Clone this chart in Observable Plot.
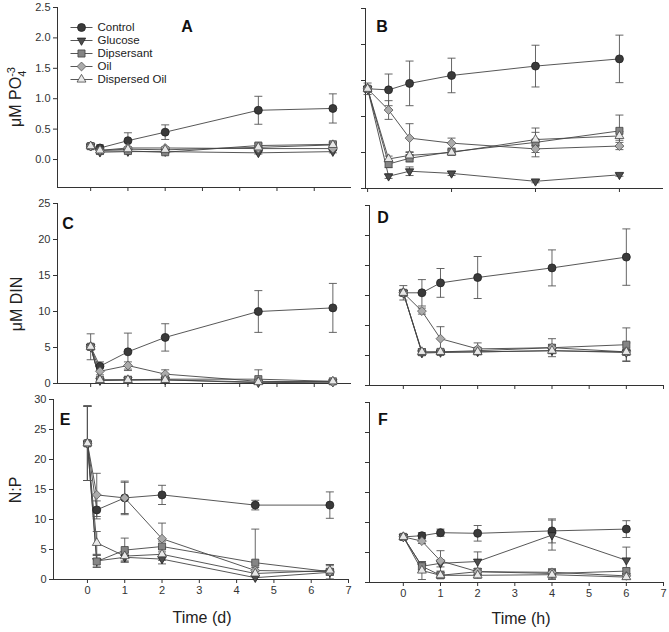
<!DOCTYPE html>
<html>
<head>
<meta charset="utf-8">
<script src="https://cdn.jsdelivr.net/npm/d3@7"></script>
<script src="https://cdn.jsdelivr.net/npm/@observablehq/plot@0.6"></script>
<style>
  html, body { margin: 0; padding: 0; background: #fff; }
  #root { position: relative; width: 669px; height: 632px; background: #fff; font-family: "Liberation Sans", Arial, sans-serif; overflow: hidden; }
  .abs { position: absolute; }
  .ytitle { position: absolute; transform: translate(-50%, -50%) rotate(-90deg); white-space: nowrap; font-size: 16px; color: #222; }
  .xtitle { position: absolute; transform: translate(-50%, -50%); white-space: nowrap; font-size: 16px; color: #222; }
  .letter { position: absolute; transform: translate(-50%, -50%); font-weight: bold; font-size: 16px; color: #111; }
</style>
</head>
<body>
<div id="root"></div>
<script>
// ---------- DATA ----------
const series = ["Control", "Glucose", "Dipsersant", "Oil", "Dispersed Oil"];
const timeDays = [0, 0.25, 1, 2, 4.5, 6.5];
const timeHours = [0, 0.5, 1, 2, 4, 6];

// Panel A: µM PO4 (days)   rows: Control, Glucose, Dipsersant, Oil, Dispersed Oil
const po4Days = [
  [0.22, 0.19, 0.31, 0.45, 0.81, 0.84],
  [0.22, 0.12, 0.13, 0.13, 0.11, 0.13],
  [0.22, 0.14, 0.14, 0.12, 0.23, 0.25],
  [0.22, 0.15, 0.19, 0.19, 0.18, 0.18],
  [0.22, 0.15, 0.17, 0.16, 0.20, 0.24]
];
const po4DaysErr = [
  [0.03, 0.05, 0.13, 0.12, 0.23, 0.24],
  [0.02, 0.03, 0.02, 0.02, 0.02, 0.02],
  [0.02, 0.03, 0.02, 0.02, 0.03, 0.03],
  [0.02, 0.03, 0.02, 0.02, 0.02, 0.02],
  [0.02, 0.03, 0.02, 0.02, 0.02, 0.03]
];
// Panel B: µM PO4 (hours)
const po4Hours = [
  [1.385, 1.37, 1.46, 1.57, 1.70, 1.80],
  [1.385, 0.17, 0.24, 0.21, 0.10, 0.19],
  [1.385, 0.34, 0.42, 0.51, 0.64, 0.80],
  [1.385, 1.09, 0.70, 0.63, 0.55, 0.59],
  [1.385, 0.41, 0.46, 0.50, 0.68, 0.73]
];
const po4HoursErr = [
  [0.08, 0.22, 0.31, 0.24, 0.29, 0.33],
  [0.03, 0.03, 0.06, 0.03, 0.02, 0.02],
  [0.03, 0.05, 0.05, 0.03, 0.20, 0.22],
  [0.03, 0.13, 0.20, 0.07, 0.05, 0.05],
  [0.03, 0.04, 0.05, 0.03, 0.10, 0.06]
];
// Panel C: µM DIN (days)
const dinDays = [
  [5.1, 2.4, 4.4, 6.4, 10.0, 10.5],
  [5.1, 0.4, 0.5, 0.5, 0.1, 0.2],
  [5.1, 0.5, 0.5, 0.6, 0.6, 0.3],
  [5.1, 1.7, 2.5, 1.3, 0.3, 0.2],
  [5.1, 0.5, 0.5, 0.5, 0.2, 0.3]
];
const dinDaysErr = [
  [1.8, 0.6, 2.6, 1.9, 2.9, 3.4],
  [0.3, 0.2, 0.2, 0.2, 0.1, 0.1],
  [0.3, 0.2, 0.5, 0.2, 1.3, 0.1],
  [0.3, 0.5, 0.5, 0.6, 0.2, 0.1],
  [0.3, 0.2, 0.2, 0.2, 0.1, 0.1]
];
// Panel D: µM DIN (hours)
const dinHours = [
  [15.45, 15.45, 17.1, 18.0, 19.6, 21.4],
  [15.45, 5.4, 5.5, 5.6, 5.8, 5.5],
  [15.45, 5.55, 5.6, 5.8, 6.3, 6.8],
  [15.45, 12.4, 7.8, 6.1, 6.3, 5.6],
  [15.45, 5.6, 5.6, 5.6, 5.8, 5.6]
];
const dinHoursErr = [
  [1.2, 2.2, 2.4, 3.5, 3.0, 4.7],
  [0.4, 0.3, 0.3, 0.3, 0.4, 0.5],
  [0.4, 0.5, 0.3, 0.3, 1.5, 2.8],
  [0.4, 0.5, 2.0, 1.0, 0.5, 0.5],
  [0.4, 0.5, 0.3, 0.3, 0.5, 1.5]
];
// Panel E: N:P (days)
const npDays = [
  [22.7, 11.6, 13.6, 14.1, 12.4, 12.4],
  [22.7, 3.1, 3.7, 3.4, 0.3, 1.2],
  [22.7, 3.0, 4.9, 5.5, 2.8, 1.3],
  [22.7, 14.1, 13.6, 6.8, 1.5, 1.3],
  [22.7, 6.1, 3.9, 4.2, 1.0, 1.5]
];
const npDaysErr = [
  [6.2, 1.5, 2.8, 1.6, 0.8, 2.2],
  [6.2, 1.0, 0.8, 0.8, 0.3, 1.3],
  [6.2, 1.0, 2.0, 0.9, 5.6, 1.2],
  [6.2, 3.6, 2.6, 2.6, 0.5, 0.5],
  [6.2, 1.9, 0.8, 1.0, 0.3, 0.8]
];
// Panel F: N:P (hours)
const npHours = [
  [7.6, 7.8, 8.3, 8.2, 8.6, 8.9],
  [7.6, 2.7, 3.2, 3.5, 7.9, 3.7],
  [7.6, 2.7, 1.2, 1.8, 1.5, 1.9],
  [7.6, 6.9, 3.6, 1.8, 1.7, 1.1],
  [7.6, 2.0, 1.2, 1.2, 1.3, 0.9]
];
const npHoursErr = [
  [0.4, 0.5, 0.6, 1.3, 2.0, 1.4],
  [0.4, 0.6, 0.6, 1.6, 2.5, 2.2],
  [0.4, 0.8, 0.4, 0.5, 0.8, 0.5],
  [0.4, 0.4, 1.7, 0.5, 0.5, 0.4],
  [0.4, 1.5, 0.5, 0.5, 0.8, 0.4]
];

// tick values
const po4Ticks = [0, 0.5, 1.0, 1.5, 2.0, 2.5];
const dinTicks = [0, 5, 10, 15, 20, 25];
const npTicks = [0, 5, 10, 15, 20, 25, 30];
const dayTicks = [0, 1, 2, 3, 4, 5, 6];
const dayTicksLabeled = [0, 1, 2, 3, 4, 5, 6, 7];
const hourTicksB = [0, 2, 4, 6];
const hourTicks = [0, 1, 2, 3, 4, 5, 6, 7];

// ---------- STYLE ----------
const sqrt3 = Math.sqrt(3);
const triangleDown = {
  draw(context, size) {
    const y = -Math.sqrt(size / (sqrt3 * 3));
    context.moveTo(0, -y * 2);
    context.lineTo(-sqrt3 * y, y);
    context.lineTo(sqrt3 * y, y);
    context.closePath();
  }
};
const capSymbol = {
  draw(context, size) {
    const r = Math.sqrt(size / Math.PI);
    context.moveTo(-r, 0);
    context.lineTo(r, 0);
  }
};
const seriesSymbol = ["circle", triangleDown, "square", "diamond2", "triangle"];
const seriesFill = ["#3a3a3a", "#4d4d4d", "#858585", "#ababab", "#e8e8e8"];
const seriesStroke = ["#222", "#222", "#444", "#555", "#444"];
const seriesR = [4, 3.1, 4, 4, 3.3];

const root = document.getElementById("root");

function rowsOf(times, vals, errs) {
  const rows = [];
  series.forEach((s, i) => times.forEach((t, j) => rows.push({series: s, si: i, t, v: vals[i][j], e: errs[i][j]})));
  return rows;
}

function panel(cfg) {
  const mL = 50, mR = 12, mT = 10, mB = 30;
  const f = cfg.frame;
  const rows = rowsOf(cfg.times, cfg.vals, cfg.errs);
  const lo = d => Math.max(cfg.yDomain[0], d.v - d.e);
  const marks = [
    Plot.ruleX([cfg.xDomain[0]], {stroke: "#333", strokeWidth: 1}),
    Plot.ruleY([cfg.yDomain[0]], {stroke: "#333", strokeWidth: 1}),
    Plot.axisY({ticks: cfg.yTicks, tickSize: 4, tickPadding: 3, label: null,
      tickFormat: cfg.yFormat ? cfg.yFormat : () => ""}),
    Plot.axisX({ticks: cfg.xTicks, tickSize: 4, tickPadding: 3, label: null,
      tickFormat: cfg.xLabels ? d3.format("d") : () => ""}),
    Plot.line(rows, {x: "t", y: "v", z: "series", stroke: "#444", strokeWidth: 0.9}),
    Plot.link(rows, {x1: "t", x2: "t", y1: lo, y2: d => d.v + d.e, stroke: "#555", strokeWidth: 0.9}),
    Plot.dot(rows, {x: "t", y: d => d.v + d.e, symbol: capSymbol, r: 4, fill: "none", stroke: "#555", strokeWidth: 0.9}),
    Plot.dot(rows.filter(d => d.v - d.e > cfg.yDomain[0]), {x: "t", y: d => d.v - d.e, symbol: capSymbol, r: 4, fill: "none", stroke: "#555", strokeWidth: 0.9})
  ];
  series.forEach((s, i) => {
    marks.push(Plot.dot(rows.filter(d => d.si === i), {
      x: "t", y: "v", symbol: seriesSymbol[i], r: seriesR[i],
      fill: seriesFill[i], stroke: seriesStroke[i], strokeWidth: 0.8
    }));
  });
  const svg = Plot.plot({
    width: f.right - f.left + mL + mR,
    height: f.bottom - f.top + mT + mB,
    marginLeft: mL, marginRight: mR, marginTop: mT, marginBottom: mB,
    x: {domain: cfg.xDomain, label: null},
    y: {domain: cfg.yDomain, label: null},
    style: {background: "transparent", fontFamily: "'Liberation Sans', Arial, sans-serif", fontSize: "11px", color: "#333", maxWidth: "none", overflow: "visible"},
    marks
  });
  svg.classList.add("abs");
  svg.style.left = (f.left - mL) + "px";
  svg.style.top = (f.top - mT) + "px";
  root.appendChild(svg);
}

panel({frame: {left: 57, right: 351, top: 7, bottom: 187}, xDomain: [-0.89, 7], yDomain: [-0.46, 2.5],
  times: timeDays, vals: po4Days, errs: po4DaysErr, yTicks: po4Ticks, yFormat: d3.format(".1f"), xTicks: dayTicks, xLabels: false});
panel({frame: {left: 365, right: 663, top: 8, bottom: 188}, xDomain: [-0.05, 7.05], yDomain: [0, 2.5],
  times: timeHours, vals: po4Hours, errs: po4HoursErr, yTicks: po4Ticks, yFormat: null, xTicks: hourTicksB, xLabels: false});
panel({frame: {left: 57, right: 351, top: 203, bottom: 383}, xDomain: [-0.89, 7], yDomain: [0, 25],
  times: timeDays, vals: dinDays, errs: dinDaysErr, yTicks: dinTicks, yFormat: d3.format("d"), xTicks: dayTicks, xLabels: false});
panel({frame: {left: 369, right: 663, top: 205, bottom: 385}, xDomain: [-0.91, 7], yDomain: [0, 30],
  times: timeHours, vals: dinHours, errs: dinHoursErr, yTicks: npTicks, yFormat: null, xTicks: hourTicks, xLabels: false});
panel({frame: {left: 53, right: 348, top: 399, bottom: 579}, xDomain: [-0.91, 7], yDomain: [0, 30],
  times: timeDays, vals: npDays, errs: npDaysErr, yTicks: npTicks, yFormat: d3.format("d"), xTicks: dayTicksLabeled, xLabels: true});
panel({frame: {left: 369, right: 663, top: 402, bottom: 582}, xDomain: [-0.91, 7], yDomain: [0, 30],
  times: timeHours, vals: npHours, errs: npHoursErr, yTicks: npTicks, yFormat: null, xTicks: hourTicks, xLabels: true});

// ---------- LEGEND (panel A) ----------
{
  const legendRows = series.map((s, i) => ({series: s, si: i}));
  const marks = [
    Plot.link(legendRows, {x1: () => 0, x2: () => 1, y1: "series", y2: "series", stroke: "#444", strokeWidth: 0.9})
  ];
  series.forEach((s, i) => {
    marks.push(Plot.dot(legendRows.filter(d => d.si === i), {
      x: () => 0.5, y: "series", symbol: seriesSymbol[i], r: seriesR[i],
      fill: seriesFill[i], stroke: seriesStroke[i], strokeWidth: 0.8
    }));
  });
  marks.push(Plot.text(legendRows, {x: () => 1, y: "series", text: "series", textAnchor: "start", dx: 5, fill: "#222", fontSize: 11.5}));
  const svg = Plot.plot({
    width: 10 + 22 + 120, height: 10 + 52 + 10,
    marginLeft: 10, marginRight: 120, marginTop: 10, marginBottom: 10,
    x: {domain: [0, 1], axis: null},
    y: {type: "point", domain: series, padding: 0, axis: null},
    style: {background: "transparent", fontFamily: "'Liberation Sans', Arial, sans-serif", fontSize: "11.5px", maxWidth: "none", overflow: "visible"},
    marks
  });
  svg.classList.add("abs");
  svg.style.left = (70 - 10) + "px";
  svg.style.top = (27 - 10) + "px";
  root.appendChild(svg);
}

// ---------- TEXT ----------
function addDiv(cls, html, x, y) {
  const d = document.createElement("div");
  d.className = cls;
  d.innerHTML = html;
  d.style.left = x + "px";
  d.style.top = y + "px";
  root.appendChild(d);
}
addDiv("ytitle", 'μM PO<span style="display:inline-flex;flex-direction:column;vertical-align:middle;font-size:11px;line-height:11px;"><span>-3</span><span>4</span></span>', 17, 97);
addDiv("ytitle", "μM DIN", 17, 304);
addDiv("ytitle", "N:P", 16, 490);
addDiv("xtitle", "Time (d)", 202, 618);
addDiv("xtitle", "Time (h)", 521, 619);
addDiv("letter", "A", 187, 27);
addDiv("letter", "B", 382, 27);
addDiv("letter", "C", 68, 224);
addDiv("letter", "D", 383, 218);
addDiv("letter", "E", 65, 420);
addDiv("letter", "F", 383, 420);
</script>
</body>
</html>
